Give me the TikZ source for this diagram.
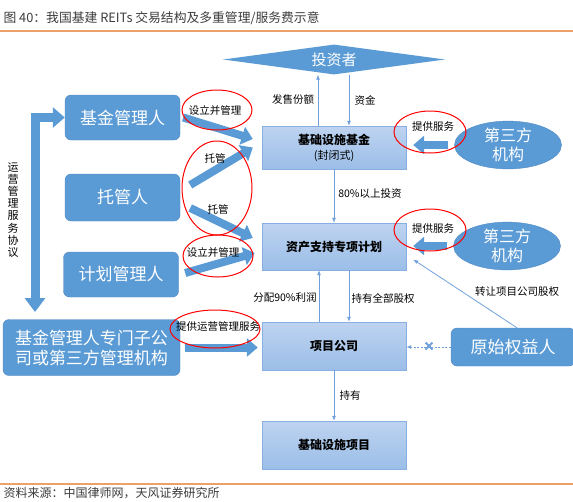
\documentclass[tikz,border=0pt]{standalone}
\usepackage{fontspec}
\setmainfont{Noto Sans CJK SC}
\usetikzlibrary{arrows.meta,positioning,shapes.geometric,calc}
\definecolor{MidBlue}{RGB}{91,155,213}
\definecolor{EdgeBlue}{RGB}{78,135,196}
\definecolor{PaleTop}{RGB}{190,211,240}
\definecolor{PaleBot}{RGB}{155,190,232}
\definecolor{PaleEdge}{RGB}{135,175,226}
\definecolor{LineBlue}{RGB}{112,160,220}
\definecolor{RuleOrange}{RGB}{237,160,105}
\definecolor{TitleGray}{RGB}{60,60,60}

\tikzset{
  darkbox/.style={draw=EdgeBlue,fill=MidBlue,rounded corners=6pt,text=white,inner sep=0pt,
    font=\fontsize{17}{20}\selectfont,align=center},
  palebox/.style={draw=PaleEdge,top color=PaleTop,bottom color=PaleBot,minimum width=144pt,
    inner sep=0pt,font=\bfseries\fontsize{12}{15}\selectfont,align=center},
  thirdoval/.style={ellipse,draw=EdgeBlue,fill=MidBlue,text=white,inner sep=0pt,
    minimum width=107pt,minimum height=40pt,font=\fontsize{16}{19}\selectfont,align=center},
  thinarr/.style={draw=LineBlue,line width=0.8pt,-{Latex[length=5pt,width=4pt]}},
  fatarr/.style={draw=MidBlue,line width=8pt,-{Triangle[width=18pt,length=11pt]}},
  lbl/.style={font=\fontsize{10.5}{12}\selectfont,inner sep=0pt},
  redring/.style={draw=red,line width=1pt}
}

\begin{document}
\begin{tikzpicture}[x=1pt,y=-1pt]
  \useasboundingbox (0,0) rectangle (573,501);

  \node[anchor=west,text=TitleGray,font=\fontsize{12.8}{14}\selectfont] (title) at (0,18)
    {图 40：我国基建 REITs 交易结构及多重管理/服务费示意};
  \draw[RuleOrange,line width=1.2pt] (0,31) -- (573,31);
  \draw[RuleOrange,line width=1.2pt] (0,484) -- (573,484);
  \node[anchor=west,text=TitleGray,font=\fontsize{12}{14}\selectfont] (src) at (0,493)
    {资料来源：中国律师网，天风证券研究所};

  % 中间主线
  \node[diamond,fill=MidBlue,aspect=7.5,minimum width=222pt,minimum height=30pt,inner sep=0pt,
    text=white,font=\fontsize{15}{15}\selectfont] (inv) at (334,59.5) {投资者};
  \node[palebox,minimum height=43pt] (fund) at (334,147.5)
    {基础设施基金\\{\mdseries\fontsize{11}{15}\selectfont (封闭式)}};
  \node[palebox,minimum height=47pt] (plan) at (334,246.5) {资产支持专项计划};
  \node[palebox,minimum height=48pt] (proj) at (334,346) {项目公司};
  \node[palebox,minimum height=48pt] (infra) at (334,445) {基础设施项目};

  % 左侧管理人
  \node[darkbox,minimum width=115pt,minimum height=45pt] (fm) at (122.5,117.5) {基金管理人};
  \node[darkbox,minimum width=115pt,minimum height=47pt] (cust) at (122.5,197.5) {托管人};
  \node[darkbox,minimum width=115pt,minimum height=45pt] (pm) at (121,274.5) {计划管理人};
  \node[darkbox,minimum width=177pt,minimum height=56pt] (opco) at (91.5,347.5)
    {基金管理人专门子公\\司或第三方管理机构};
  \node[darkbox,minimum width=124pt,minimum height=38pt] (orig) at (513,347) {原始权益人};

  % 右侧第三方
  \node[thirdoval] (tpa) at (508,145) {第三方\\机构};
  \node[thirdoval] (tpb) at (507,246) {第三方\\机构};

  \node[font=\fontsize{11}{12.2}\selectfont,align=center,inner sep=0pt] (vlbl) at (13,210)
    {运\\营\\管\\理\\服\\务\\协\\议};

  % 细线箭头
  \coordinate (upa) at ([xshift=-16pt]fund.north);
  \coordinate (dna) at ([xshift=15pt]fund.north);
  \draw[thinarr] (upa) -- (upa |- inv.south);
  \draw[thinarr] (dna |- inv.south) -- (dna);
  \draw[thinarr] (fund.south) -- (plan.north);
  \coordinate (upb) at ([xshift=-15pt]proj.north);
  \coordinate (dnb) at ([xshift=15pt]proj.north);
  \draw[thinarr] (upb) -- (upb |- plan.south);
  \draw[thinarr] (dnb |- plan.south) -- (dnb);
  \draw[thinarr] (proj.south) -- (infra.north);
  \draw[thinarr] ([xshift=4pt]orig.north) -- ([xshift=7pt,yshift=-13pt]plan.east);
  \draw[thinarr,line width=1pt,dash pattern=on 2pt off 1.5pt] (orig.west) -- (orig.west -| proj.east);
  \draw[LineBlue,line width=2pt] (425.5,342.5) -- (432.5,349.5) (425.5,349.5) -- (432.5,342.5);

  % 粗箭头
  \draw[fatarr] ([xshift=3pt]fm.east) -- ([xshift=-9pt,yshift=8.5pt]fund.west);
  \draw[fatarr] ([xshift=10pt,yshift=12.5pt]cust.east) -- ([xshift=-9pt]fund.west);
  \draw[fatarr] ([xshift=10pt,yshift=-10.5pt]cust.east) -- ([xshift=-9pt,yshift=8.5pt]plan.west);
  \draw[fatarr] ([xshift=6.5pt,yshift=1.5pt]pm.east) -- ([xshift=-7pt,yshift=-6.5pt]plan.west);
  \draw[fatarr,shorten <=5pt,shorten >=4pt] (opco.east) -- (opco.east -| proj.west);
  \draw[fatarr,shorten <=6pt,shorten >=7pt] (tpa.west) -- (tpa.west -| fund.east);
  \draw[fatarr,shorten <=6pt,shorten >=7pt] (tpb.west) -- (tpb.west -| plan.east);
  \draw[fatarr,line width=9pt,{Triangle[width=20pt,length=14pt]}-{Triangle[width=20pt,length=12pt]}]
    (35,312) |- (fm.west);

  % 标注
  \node[lbl] (l1) at (293,100) {发售份额};
  \node[lbl] (l2) at (365,100) {资金};
  \node[lbl] (l3) at (370,194) {80\%以上投资};
  \node[lbl] (l4) at (285,298) {分配90\%利润};
  \node[lbl] (l5) at (383,298) {持有全部股权};
  \node[lbl] (l6) at (517,292) {转让项目公司股权};
  \node[lbl] (l7) at (350,395) {持有};
  \node[lbl] (l8) at (215,111) {设立并管理};
  \node[lbl] (l9) at (215,158) {托管};
  \node[lbl] (l10) at (218,209) {托管};
  \node[lbl] (l11) at (213,253) {设立并管理};
  \node[lbl] (l12) at (218,327) {提供运营管理服务};
  \node[lbl] (l13) at (433,127) {提供服务};
  \node[lbl] (l14) at (433,229) {提供服务};

  \draw[redring] (217,110) ellipse (35 and 20);
  \draw[redring] (217,188) ellipse (35 and 47);
  \draw[redring] (218,256) ellipse (35 and 21);
  \draw[redring] (215,329) ellipse (45 and 19);
  \draw[redring] (430,132) ellipse (36 and 21);
  \draw[redring] (430,230) ellipse (36 and 21);
\end{tikzpicture}
\end{document}
